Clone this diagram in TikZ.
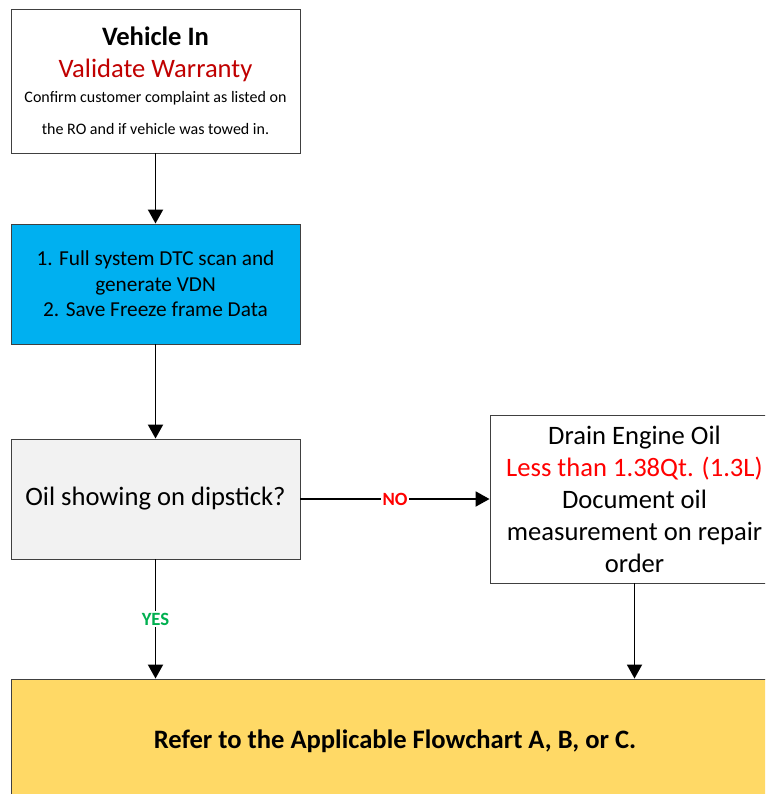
\documentclass[tikz,border=0pt]{standalone}
\usepackage{fontspec}
\setmainfont{Carlito}
\usetikzlibrary{arrows.meta}
\definecolor{warnred}{HTML}{C00000}
\definecolor{brightred}{HTML}{FF0000}
\definecolor{yesgreen}{HTML}{00B050}
\definecolor{scanblue}{HTML}{00B0F0}
\definecolor{askgrey}{HTML}{F2F2F2}
\definecolor{endyellow}{HTML}{FFD966}
\definecolor{edge}{HTML}{404040}
\newcommand{\smalltxt}{\fontsize{16}{28}\selectfont}

\begin{document}
\begin{tikzpicture}[x=1pt, y=-1pt,
  box/.style={draw=edge, line width=0.9pt, inner sep=0pt, align=center,
    font=\fontsize{26.6}{32}\selectfont},
  flow/.style={line width=1.9pt, -{Triangle[length=14pt,width=15pt]}},
  answer/.style={fill=white, inner sep=1.5pt, font=\fontsize{18.7}{22}\selectfont\bfseries}]
\useasboundingbox (0,0) rectangle (765,794);
\clip (0,0) rectangle (765,794);

% process boxes
\node[box, minimum width=289pt, minimum height=144pt] (start) at (155.5,81)
  {\textbf{Vehicle In}\\[0pt]
   \textcolor{warnred}{Validate Warranty}\\[-7pt]
   \smalltxt Confirm customer complaint as listed on\\
   \smalltxt the RO and if vehicle was towed in.};

\node[box, fill=scanblue, minimum width=289pt, minimum height=120pt,
  font=\fontsize{21.3}{25.5}\selectfont] (scan) at (155.5,284)
  {1. Full system DTC scan and\\ generate VDN\\ 2. Save Freeze frame Data};

\node[box, fill=askgrey, minimum width=289pt, minimum height=120pt] (check) at (155.5,499)
  {Oil showing on dipstick?};

\node[box, minimum width=289pt, minimum height=168pt] (drain) at (634.5,499)
  {Drain Engine Oil\\
   \textcolor{brightred}{Less than 1.38Qt. (1.3L)}\\
   Document oil\\ measurement on repair\\ order};

\node[box, fill=endyellow, minimum width=768pt, minimum height=124pt,
  font=\fontsize{26.6}{32}\selectfont\bfseries] (refer) at (395,741)
  {Refer to the Applicable Flowchart A, B, or C.};

% connectors
\draw[flow] (start.south) -- (scan.north);
\draw[flow] (scan.south) -- (check.north);
\draw[flow] (check.east) -- node[answer, text=brightred] {NO} (drain.west);
\draw[flow] (check.south) -- node[answer, text=yesgreen] {YES} (check.south |- refer.north);
\draw[flow] (drain.south) -- (drain.south |- refer.north);
\end{tikzpicture}
\end{document}
